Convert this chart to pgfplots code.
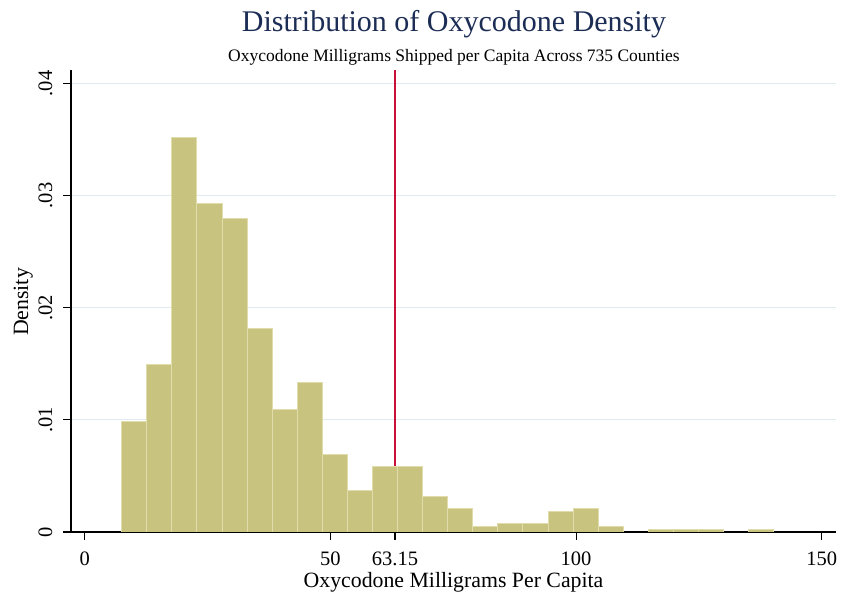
\documentclass[border=0pt]{standalone}
\usepackage{fontspec}
\setmainfont{Liberation Serif}
\usepackage{pgfplots}
\pgfplotsset{compat=1.18}
\definecolor{barfill}{RGB}{201,195,128}
\definecolor{baredge}{RGB}{224,220,172}
\definecolor{gridc}{RGB}{224,235,239}
\definecolor{redline}{RGB}{200,16,58}
\definecolor{titlec}{RGB}{28,45,85}
\begin{document}
\begin{tikzpicture}
\begin{axis}[
  at={(71bp,61bp)}, anchor=south west,
  scale only axis, width=765bp, height=462bp,
  xmin=-2.79, xmax=152.9, ymin=0, ymax=0.04119,
  axis lines=left, axis line style={-, line width=1.1bp, black},
  xtick={0,50,63.15,100,150}, xticklabels={0,50,63.15,100,150},
  ytick={0,0.01,0.02,0.03,0.04}, yticklabels={0,.01,.02,.03,.04},
  scaled y ticks=false,
  tick align=outside, major tick length=8bp,
  tick style={line width=1.1bp, black},
  ymajorgrids, grid style={gridc, line width=1.2bp},
  xticklabel style={anchor=base, yshift=-25bp, font=\fontsize{20.5bp}{23bp}\selectfont},
  yticklabel style={xshift=-11bp, rotate=90, anchor=base, font=\fontsize{20.5bp}{23bp}\selectfont},
]
\addplot[redline, line width=2bp] coordinates {(63.15,0) (63.15,0.04119)};
\addplot[ybar, bar width=5.104, bar shift=0pt, fill=barfill, draw=baredge, line width=1bp] coordinates {
(10.082,0.009864) (15.186,0.014930) (20.290,0.035191) (25.394,0.029326)
(30.498,0.027993) (35.602,0.018129) (40.706,0.010931) (45.810,0.013330)
(50.914,0.006932) (56.018,0.003732) (61.122,0.005865) (66.226,0.005865)
(71.330,0.003199) (76.434,0.002133) (81.538,0.000533) (86.642,0.000800)
(91.746,0.000800) (96.850,0.001866) (101.954,0.002133) (107.058,0.000533)
(117.266,0.000267) (122.370,0.000267) (127.474,0.000267) (137.682,0.000267)
};
\end{axis}
\node[anchor=base, font=\fontsize{30bp}{33bp}\selectfont, text=titlec] at (454bp,561bp) {Distribution of Oxycodone Density};
\node[anchor=base, font=\fontsize{17.5bp}{20bp}\selectfont] at (454bp,531bp) {Oxycodone Milligrams Shipped per Capita Across 735 Counties};
\node[anchor=base, font=\fontsize{21.8bp}{24bp}\selectfont] at (453.5bp,6bp) {Oxycodone Milligrams Per Capita};
\node[anchor=base, rotate=90, font=\fontsize{21.8bp}{24bp}\selectfont] at (28bp,291bp) {Density};
\pgfresetboundingbox
\useasboundingbox (0,0) rectangle (842bp,593bp);
\end{tikzpicture}
\end{document}
